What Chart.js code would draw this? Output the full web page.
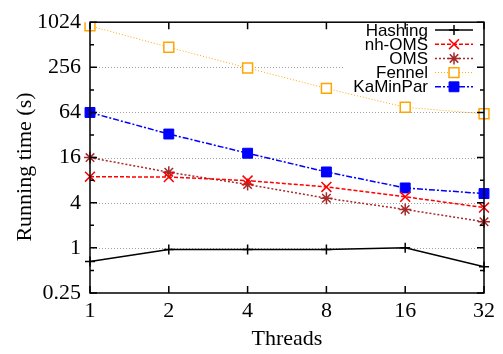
<!DOCTYPE html>
<html>
<head>
<meta charset="utf-8">
<script src="https://cdn.jsdelivr.net/npm/chart.js@4.4.1/dist/chart.umd.min.js"></script>
<style>
  body { margin: 0; background: #fff; }
  canvas { display: block; }
</style>
</head>
<body>
<canvas id="myChart" width="503" height="354"></canvas>
<script>
// data
var threads = ['1', '2', '4', '8', '16', '32'];
var hashing = [0.66, 0.95, 0.95, 0.95, 1.0, 0.56];
var nhOms = [8.9, 8.8, 7.9, 6.5, 4.8, 3.45];
var oms = [16, 10.2, 7.0, 4.6, 3.25, 2.23];
var fennel = [915, 474, 251, 134, 75, 61.5];
var kaminpar = [64, 33, 18.3, 10.3, 6.3, 5.3];
var yTicks = [0.25, 1, 4, 16, 64, 256, 1024];
var yMinorTicks = [0.5, 2, 8, 32, 128, 512];

var serif = "'Liberation Serif', 'Times New Roman', serif";
var sans = "'Liberation Sans', Arial, sans-serif";

// legend box (top right, inside plot)
var legendTextRight = 428;
var legendLineX0 = 435, legendLineX1 = 473;
var legendTop = 30, legendStep = 14.2;
var legendLeft = 345;

function drawMarker(c, style, r, x, y, color, lw) {
    c.save();
    c.setLineDash([]);
    c.strokeStyle = color;
    c.lineWidth = lw;
    c.beginPath();
    if (style === 'cross') {
        c.moveTo(x - r, y); c.lineTo(x + r, y);
        c.moveTo(x, y - r); c.lineTo(x, y + r);
    } else if (style === 'crossRot') {
        var d = r * Math.SQRT1_2;
        c.moveTo(x - d, y - d); c.lineTo(x + d, y + d);
        c.moveTo(x - d, y + d); c.lineTo(x + d, y - d);
    } else if (style === 'star') {
        var d2 = r * Math.SQRT1_2;
        c.moveTo(x - r, y); c.lineTo(x + r, y);
        c.moveTo(x, y - r); c.lineTo(x, y + r);
        c.moveTo(x - d2, y - d2); c.lineTo(x + d2, y + d2);
        c.moveTo(x - d2, y + d2); c.lineTo(x + d2, y - d2);
    } else if (style === 'rect') {
        var s = r * Math.SQRT1_2;
        c.rect(x - s, y - s, 2 * s, 2 * s);
    }
    c.stroke();
    c.restore();
}

var gnuplotLook = {
    id: 'gnuplotLook',
    beforeDatasetsDraw: function (chart) {
        var c = chart.ctx, a = chart.chartArea, ys = chart.scales.y;
        c.save();
        c.strokeStyle = '#a0a0a0';
        c.lineWidth = 1;
        c.setLineDash([1, 2]);
        yTicks.forEach(function (v) {
            if (v === yTicks[0] || v === yTicks[yTicks.length - 1]) return;
            var py = Math.round(ys.getPixelForValue(v)) + 0.5;
            var right = py < 100 ? legendLeft : a.right;
            c.beginPath();
            c.moveTo(a.left, py);
            c.lineTo(right, py);
            c.stroke();
        });
        c.restore();
    },
    afterDatasetsDraw: function (chart) {
        var c = chart.ctx, a = chart.chartArea, ys = chart.scales.y, xs = chart.scales.x;
        c.save();
        c.strokeStyle = '#000';
        c.lineWidth = 1.5;
        c.setLineDash([]);
        // ticks on all four sides
        c.beginPath();
        yTicks.forEach(function (v) {
            var py = ys.getPixelForValue(v);
            c.moveTo(a.left, py); c.lineTo(a.left + 7, py);
            c.moveTo(a.right, py); c.lineTo(a.right - 7, py);
        });
        yMinorTicks.forEach(function (v) {
            var py = ys.getPixelForValue(v);
            c.moveTo(a.left, py); c.lineTo(a.left + 4, py);
            c.moveTo(a.right, py); c.lineTo(a.right - 4, py);
        });
        threads.forEach(function (t, i) {
            var px = xs.getPixelForValue(i);
            c.moveTo(px, a.bottom); c.lineTo(px, a.bottom - 7);
            c.moveTo(px, a.top); c.lineTo(px, a.top + 7);
        });
        c.stroke();
        c.strokeRect(a.left, a.top, a.right - a.left, a.bottom - a.top);

        // axis titles
        c.fillStyle = '#000';
        c.font = '22px ' + serif;
        c.textAlign = 'center';
        c.textBaseline = 'middle';
        c.fillText('Threads', (a.left + a.right) / 2, 339);
        c.save();
        c.translate(25, 167);
        c.rotate(-Math.PI / 2);
        c.fillText('Running time (s)', 0, 0);
        c.restore();

        // legend
        c.font = '17px ' + sans;
        c.textAlign = 'right';
        chart.data.datasets.forEach(function (ds, i) {
            var ly = legendTop + i * legendStep;
            c.fillStyle = '#000';
            c.fillText(ds.label, legendTextRight, ly + 1);
            c.save();
            c.strokeStyle = ds.borderColor;
            c.lineWidth = ds.borderWidth;
            c.setLineDash(ds.borderDash || []);
            c.beginPath();
            c.moveTo(legendLineX0, ly);
            c.lineTo(legendLineX1, ly);
            c.stroke();
            c.restore();
            var mx = (legendLineX0 + legendLineX1) / 2;
            var s = ds.pointRadius * Math.SQRT1_2;
            if (ds.pointStyle === 'rect') {
                c.fillStyle = ds.pointBackgroundColor;
                c.fillRect(mx - s, ly - s, 2 * s, 2 * s);
            }
            drawMarker(c, ds.pointStyle, ds.pointRadius, mx, ly, ds.pointBorderColor, ds.pointBorderWidth);
        });
        c.restore();
    }
};

var ctx = document.getElementById('myChart').getContext('2d');
var myChart = new Chart(ctx, {
    type: 'line',
    data: {
        labels: threads,
        datasets: [{
            label: 'Hashing',
            data: hashing,
            borderColor: '#000000',
            borderWidth: 1.5,
            pointStyle: 'cross',
            pointRadius: 5,
            pointBorderColor: '#000000',
            pointBorderWidth: 1.5
        }, {
            label: 'nh-OMS',
            data: nhOms,
            borderColor: '#ff0000',
            borderWidth: 1.5,
            borderDash: [4, 2],
            pointStyle: 'crossRot',
            pointRadius: 7,
            pointBorderColor: '#ff0000',
            pointBorderWidth: 1.5
        }, {
            label: 'OMS',
            data: oms,
            borderColor: '#a52a2a',
            borderWidth: 1.5,
            borderDash: [2, 2],
            pointStyle: 'star',
            pointRadius: 6,
            pointBorderColor: '#a52a2a',
            pointBorderWidth: 1.5
        }, {
            label: 'Fennel',
            data: fennel,
            borderColor: '#ffa500',
            borderWidth: 1,
            borderDash: [1, 2],
            pointStyle: 'rect',
            pointRadius: 7,
            pointBorderColor: '#ffa500',
            pointBackgroundColor: '#ffffff',
            pointBorderWidth: 1.5
        }, {
            label: 'KaMinPar',
            data: kaminpar,
            borderColor: '#0000ff',
            borderWidth: 1.5,
            borderDash: [6, 2, 2, 2],
            pointStyle: 'rect',
            pointRadius: 7,
            pointBorderColor: '#0000ff',
            pointBackgroundColor: '#0000ff',
            pointBorderWidth: 1
        }]
    },
    options: {
        responsive: false,
        animation: false,
        layout: { padding: { top: 19, right: 19, left: 0, bottom: 0 } },
        elements: { line: { tension: 0, fill: false } },
        plugins: { legend: { display: false }, tooltip: { enabled: false } },
        scales: {
            x: {
                type: 'category',
                offset: false,
                grid: { display: false, drawTicks: false },
                border: { display: false },
                ticks: {
                    color: '#000',
                    padding: 5,
                    maxRotation: 0,
                    font: { family: serif, size: 22 }
                },
                afterFit: function (scale) { scale.height = 61; }
            },
            y: {
                type: 'logarithmic',
                min: 0.25,
                max: 1024,
                grid: { display: false, drawTicks: false },
                border: { display: false },
                afterBuildTicks: function (scale) {
                    scale.ticks = yTicks.map(function (v) { return { value: v }; });
                },
                ticks: {
                    color: '#000',
                    padding: 9,
                    font: { family: serif, size: 22 },
                    callback: function (v) { return String(v); }
                },
                afterFit: function (scale) { scale.width = 90; }
            }
        }
    },
    plugins: [gnuplotLook]
});
</script>
</body>
</html>
